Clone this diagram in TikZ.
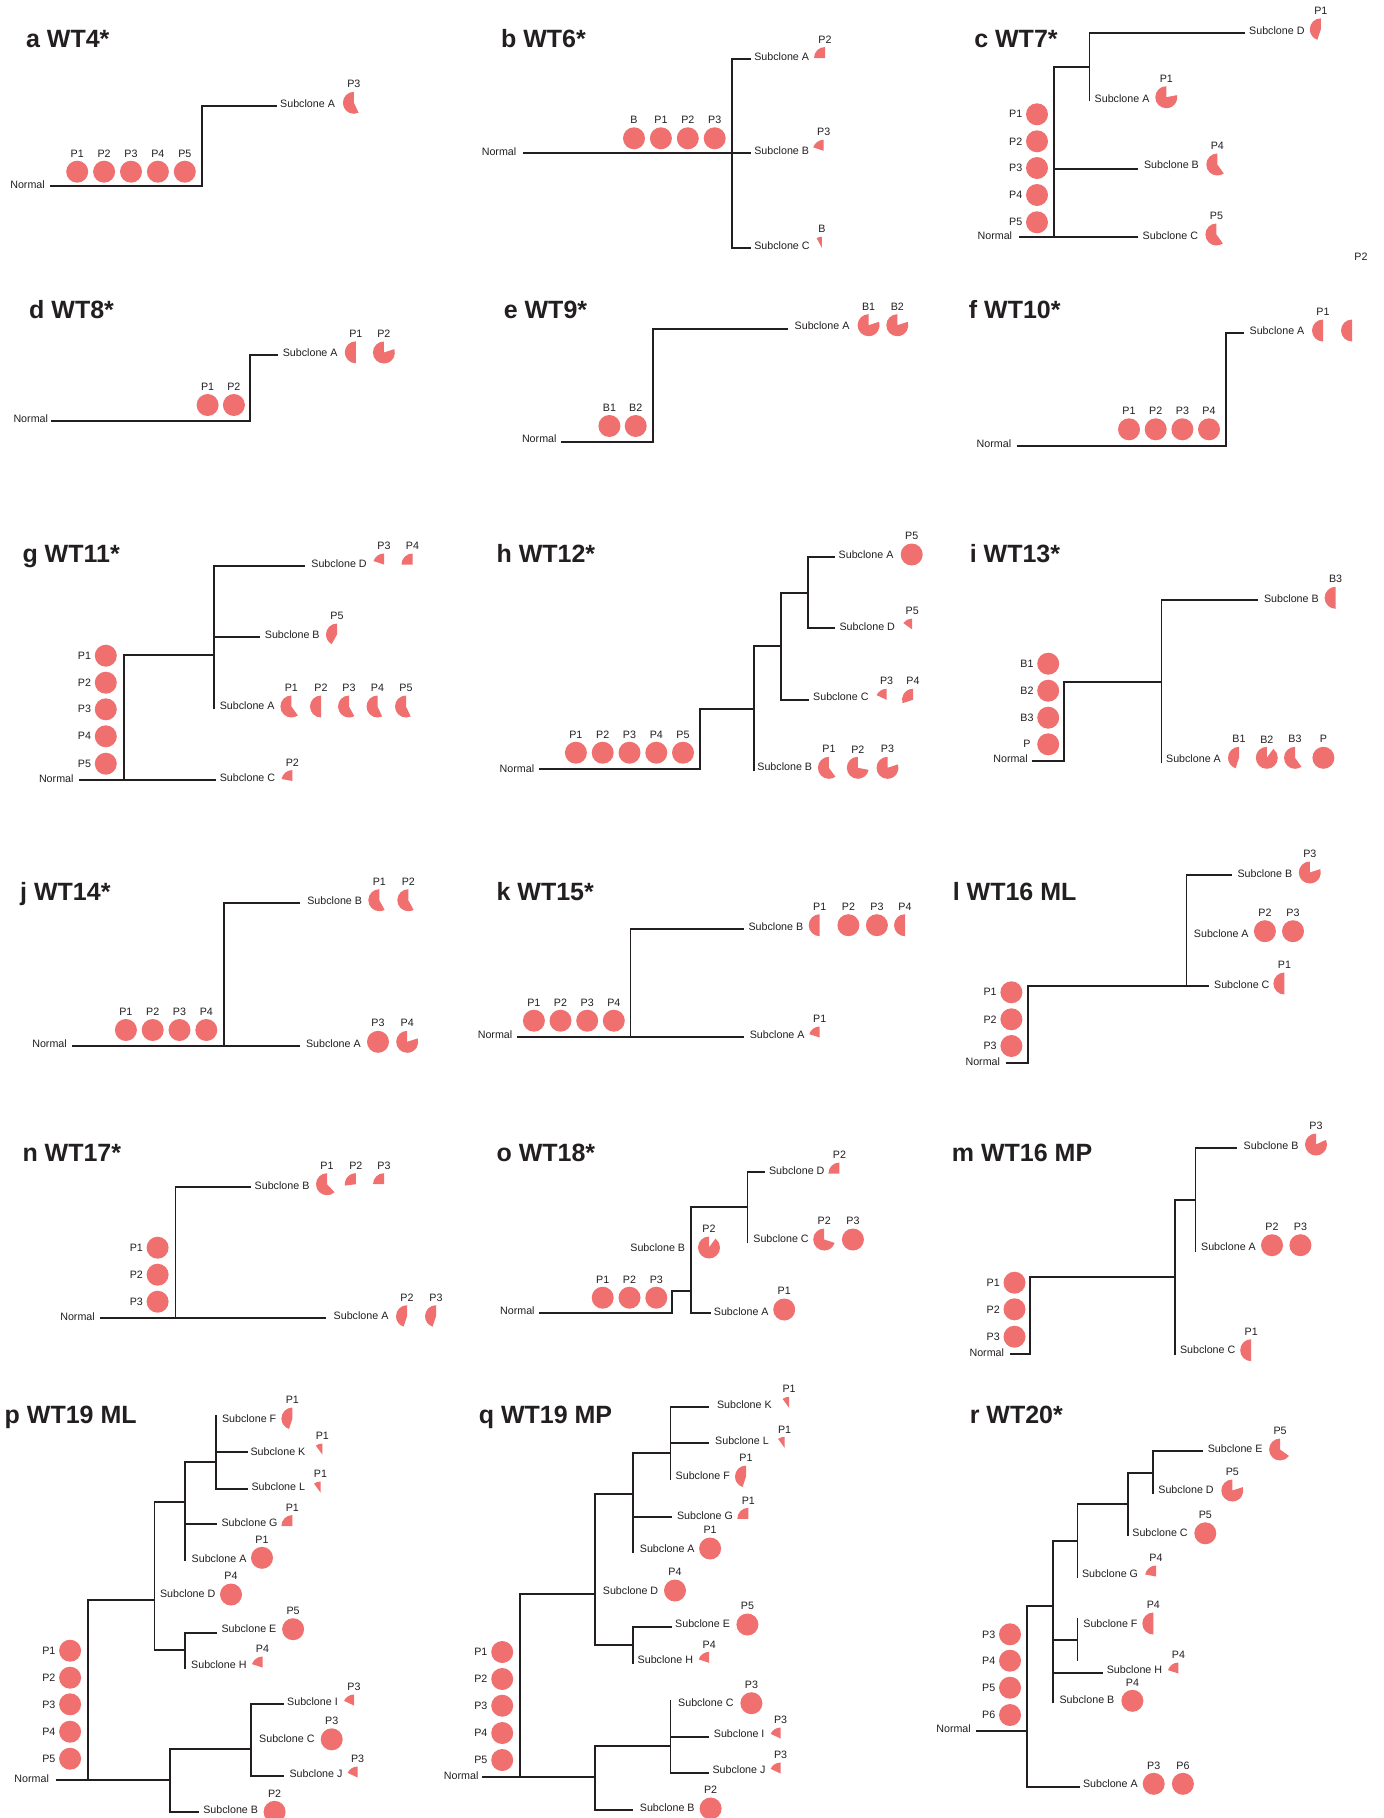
\documentclass[tikz,border=0pt]{standalone}
\usepackage{fontspec}
\setmainfont{Liberation Sans}
\definecolor{pc}{RGB}{240,112,112}
\definecolor{ink}{RGB}{35,31,32}
\tikzset{
  br/.style={line width=1.8pt, draw=ink, line join=miter},
  lab/.style={font=\fontsize{10.7}{12}\selectfont, inner sep=0pt, text=ink},
  ttl/.style={font=\fontsize{25}{30}\selectfont\bfseries, inner sep=0pt, text=ink, anchor=base west},
  pief/.style={fill=pc}
}
% pie: cx, cy, fraction, label
\newcommand{\piec}[4]{\fill[pief] (#1,-#2) -- ++(0,11) arc[start angle=90, delta angle={360*#3}, radius=11] -- cycle;
  \node[lab] at (#1,{18.5-#2}) {#4};}
\newcommand{\fullc}[3]{\fill[pief] (#1,-#2) circle[radius=11];
  \node[lab] at (#1,{18.5-#2}) {#3};}
\newcommand{\rowc}[3]{\fill[pief] (#1,-#2) circle[radius=11];
  \node[lab] at (#1,{18.2-#2}) {#3};}
\newcommand{\colc}[3]{\fill[pief] (#1,-#2) circle[radius=11];
  \node[lab] at ({#1-21.3},-#2) {#3};}
\newcommand{\subl}[3]{\node[lab,anchor=west] at (#1,-#2) {#3};}
\newcommand{\norml}[2]{\node[lab,anchor=east] at (#1,-#2) {Normal};}
\begin{document}
\begin{tikzpicture}[x=1pt,y=1pt]
\fill[white] (0,0) rectangle (1384,-1818);
\useasboundingbox (0,0) rectangle (1384,-1818);

% ---------------- a
\node[ttl] (ta) at (25.9,-47.7) {a WT4*};
\draw[br] (50,-186) -| (201.8,-106) -- (276.8,-106);
\norml{45}{184.3}
\subl{280}{103.3}{Subclone A}
\rowc{77.2}{171.7}{P1}\rowc{104.1}{171.7}{P2}\rowc{131}{171.7}{P3}\rowc{157.9}{171.7}{P4}\rowc{184.8}{171.7}{P5}
\piec{353.9}{102.8}{0.57}{P3}

% ---------------- b
\node[ttl] (tb) at (500.9,-47.7) {b WT6*};
\draw[br] (523.2,-153.3) -- (751,-153.3);
\draw[br] (751,-59) -- (731.6,-59) -- (731.6,-247.7) -- (751,-247.7);
\norml{516.5}{151.7}
\subl{754.1}{56.3}{Subclone A}
\subl{754.1}{150.3}{Subclone B}
\subl{754.1}{245.3}{Subclone C}
\rowc{634}{138.3}{B}\rowc{660.9}{138.3}{P1}\rowc{687.8}{138.3}{P2}\rowc{714.7}{138.3}{P3}
\piec{825}{58}{0.25}{P2}
\piec{823.7}{150.8}{0.2}{P3}
\piec{821.9}{247.8}{0.08}{B}

% ---------------- c
\node[ttl] (tc) at (974.1,-47.7) {c WT7*};
\draw[br] (1019,-237.3) -- (1138,-237.3);
\draw[br] (1054,-237.3) -- (1054,-67) -- (1089.5,-67);
\draw[br] (1089.5,-101) -- (1089.5,-32.7) -- (1245,-32.7);
\draw[br] (1054,-169.3) -- (1138,-169.3);
\norml{1012.3}{235.3}
\subl{1249}{30.3}{Subclone D}
\subl{1094.5}{98.3}{Subclone A}
\subl{1143.9}{165}{Subclone B}
\subl{1142.5}{235.3}{Subclone C}
\colc{1037}{114.3}{P1}\colc{1037}{141.3}{P2}\colc{1037}{168}{P3}\colc{1037}{195}{P4}\colc{1037}{222.3}{P5}
\piec{1320.8}{29.3}{0.45}{P1}
\piec{1166.3}{97.2}{0.78}{P1}
\piec{1217.3}{164.5}{0.6}{P4}
\piec{1216.4}{234.5}{0.6}{P5}
\node[lab] (stray) at (1361,-257) {P2};

% ---------------- d
\node[ttl] (td) at (29,-318.3) {d WT8*};
\draw[br] (51.3,-421) -| (250,-355.3) -- (277.7,-355.3);
\norml{48.2}{418.3}
\subl{282.6}{352.3}{Subclone A}
\rowc{207.6}{405}{P1}\rowc{233.9}{405}{P2}
\piec{355.8}{352.3}{0.5}{P1}
\piec{383.9}{352.5}{0.8}{P2}

% ---------------- e
\node[ttl] (te) at (503.6,-318.3) {e WT9*};
\draw[br] (561.2,-442) -| (652.7,-329) -- (787.8,-329);
\norml{556.7}{438.7}
\subl{794.5}{325.3}{Subclone A}
\rowc{609.4}{426}{B1}\rowc{635.7}{426}{B2}
\piec{868.6}{325.2}{0.8}{B1}
\piec{897.3}{325.2}{0.8}{B2}

% ---------------- f
\node[ttl] (tf) at (968.7,-318.3) {f WT10*};
\draw[br] (1016.8,-445.7) -| (1225.6,-333.3) -- (1244.4,-333.3);
\norml{1011.4}{443.3}
\subl{1249.4}{331}{Subclone A}
\rowc{1129}{429.3}{P1}\rowc{1155.7}{429.3}{P2}\rowc{1182.4}{429.3}{P3}\rowc{1209}{429.3}{P4}
\piec{1323}{330.5}{0.5}{P1}
\piec{1352}{330.5}{0.5}{}

% ---------------- g
\node[ttl] (tg) at (22.3,-562.7) {g WT11*};
\draw[br] (79,-780.3) -- (215.6,-780.3);
\draw[br] (124.1,-780.3) -- (124.1,-655) -- (214.3,-655);
\draw[br] (214.3,-709.3) -- (214.3,-565.7) -- (305,-565.7);
\draw[br] (214.3,-637) -- (260.3,-637);
\norml{73.7}{778.3}
\subl{311.2}{563.3}{Subclone D}
\subl{264.7}{635}{Subclone B}
\subl{219.6}{706}{Subclone A}
\subl{219.6}{778}{Subclone C}
\colc{105.8}{655.7}{P1}\colc{105.8}{682.7}{P2}\colc{105.8}{709.3}{P3}\colc{105.8}{736.3}{P4}\colc{105.8}{763.7}{P5}
\piec{384}{564.5}{0.2}{P3}
\piec{412.5}{564.5}{0.25}{P4}
\piec{337}{634.5}{0.42}{P5}
\piec{291.4}{706.5}{0.6}{P1}
\piec{321}{706.5}{0.5}{P2}
\piec{349}{706.5}{0.58}{P3}
\piec{377.5}{706.5}{0.57}{P4}
\piec{406}{706.5}{0.57}{P5}
\piec{292.4}{781}{0.22}{P2}

% ---------------- h
\node[ttl] (th) at (496.4,-562.7) {h WT12*};
\draw[br] (538.8,-769.3) -| (700.2,-708.7) -- (754.1,-708.7);
\draw[br] (754.1,-771) -- (754.1,-646) -- (781,-646);
\draw[br] (808.9,-700) -- (781,-700) -- (781,-592.7) -- (808,-592.7);
\draw[br] (835,-557.3) -- (808,-557.3) -- (808,-628.3) -- (835,-628.3);
\norml{534.4}{768.3}
\subl{838.5}{555}{Subclone A}
\subl{839.4}{626.3}{Subclone D}
\subl{813}{697}{Subclone C}
\subl{757.2}{767}{Subclone B}
\rowc{575.9}{752.7}{P1}\rowc{602.7}{752.7}{P2}\rowc{629.5}{752.7}{P3}\rowc{656.3}{752.7}{P4}\rowc{683}{752.7}{P5}
\fullc{911.7}{554.5}{P5}
\piec{912.2}{629.5}{0.15}{P5}
\piec{886.6}{699.8}{0.18}{P3}
\piec{913}{699.8}{0.3}{P4}
\piec{828.9}{767.8}{0.6}{P1}
\piec{857.8}{767.8}{0.72}{P2}
\piec{887.5}{767.8}{0.8}{P3}

% ---------------- i
\node[ttl] (ti) at (969.6,-562.3) {i WT13*};
\draw[br] (1031.6,-760.7) -| (1064,-681.7) -- (1161.4,-681.7);
\draw[br] (1161.4,-763.3) -- (1161.4,-600.3) -- (1258.4,-600.3);
\norml{1028}{759}
\subl{1263.8}{598.3}{Subclone B}
\subl{1165.9}{759}{Subclone A}
\colc{1048.2}{663.7}{B1}\colc{1048.2}{690.7}{B2}\colc{1048.2}{717.7}{B3}\colc{1048.2}{744.3}{P}
\piec{1335.6}{597.8}{0.5}{B3}
\piec{1239}{757.8}{0.45}{B1}
\piec{1266.8}{757.8}{0.9}{B2}
\piec{1295}{757.8}{0.6}{B3}
\fullc{1323.4}{757.8}{P}

% ---------------- j
\node[ttl] (tj) at (20,-900.7) {j WT14*};
\draw[br] (72.3,-1045.7) -- (300,-1045.7);
\draw[br] (224.1,-1045.7) -- (224.1,-902.7) -- (300,-902.7);
\norml{67}{1043.3}
\subl{307.1}{900.7}{Subclone B}
\subl{305.8}{1043.3}{Subclone A}
\rowc{125.9}{1030}{P1}\rowc{152.7}{1030}{P2}\rowc{179.5}{1030}{P3}\rowc{206.3}{1030}{P4}
\piec{379.3}{900.2}{0.58}{P1}
\piec{408.3}{900.2}{0.58}{P2}
\fullc{378}{1041.8}{P3}
\piec{407.2}{1041.8}{0.8}{P4}

% ---------------- k
\node[ttl] (tk) at (496.4,-900.7) {k WT15*};
\draw[br] (517,-1036.7) -- (743.8,-1036.7);
\draw[br] (630.4,-1036.7) -- (630.4,-928.7) -- (743.8,-928.7);
\norml{512.5}{1035}
\subl{748.3}{926.3}{Subclone B}
\subl{749.6}{1034.3}{Subclone A}
\rowc{533.9}{1020.7}{P1}\rowc{560.5}{1020.7}{P2}\rowc{587.2}{1020.7}{P3}\rowc{613.8}{1020.7}{P4}
\piec{819.7}{925.2}{0.5}{P1}
\fullc{848.4}{925.2}{P2}
\fullc{876.9}{925.2}{P3}
\piec{905}{925.2}{0.5}{P4}
\piec{819.7}{1037.5}{0.2}{P1}

% ---------------- l
\node[ttl] (tl) at (952.6,-900.7) {l WT16 ML};
\draw[br] (1005.5,-1062.7) -| (1028,-985.7) -- (1209,-985.7);
\draw[br] (1186.5,-985.7) -- (1186.5,-875) -- (1232.3,-875);
\norml{1000.2}{1061.3}
\subl{1237.3}{873.3}{Subclone B}
\subl{1193.7}{933.3}{Subclone A}
\subl{1213.9}{984.7}{Subclone C}
\colc{1011.4}{992.3}{P1}\colc{1011.4}{1019.3}{P2}\colc{1011.4}{1046}{P3}
\piec{1309.8}{872.5}{0.8}{P3}
\fullc{1264.9}{931.2}{P2}
\fullc{1293}{931.2}{P3}
\piec{1284.4}{983.5}{0.5}{P1}

% ---------------- n
\node[ttl] (tn) at (22.3,-1161) {n WT17*};
\draw[br] (100,-1318.3) -- (325.9,-1318.3);
\draw[br] (175.4,-1318.3) -- (175.4,-1187.3) -- (251.3,-1187.3);
\norml{95}{1316.7}
\subl{254.5}{1185.3}{Subclone B}
\subl{333.5}{1315.7}{Subclone A}
\colc{157.6}{1247.7}{P1}\colc{157.6}{1274.7}{P2}\colc{157.6}{1301.7}{P3}
\piec{327}{1184.2}{0.62}{P1}
\piec{355.8}{1184.2}{0.27}{P2}
\piec{384}{1184.2}{0.25}{P3}
\piec{407}{1316.2}{0.45}{P2}
\piec{436}{1316.2}{0.45}{P3}

% ---------------- o
\node[ttl] (to) at (496.4,-1161) {o WT18*};
\draw[br] (539.3,-1312.7) -| (671.9,-1291) -- (691,-1291);
\draw[br] (711.4,-1312.7) -- (691,-1312.7) -- (691,-1207.3) -- (747.4,-1207.3);
\draw[br] (747.4,-1243.3) -- (747.4,-1171.7) -- (765.3,-1171.7);
\norml{534.8}{1310.7}
\subl{768.9}{1170.7}{Subclone D}
\subl{753.2}{1239}{Subclone C}
\subl{713.7}{1311.3}{Subclone A}
\node[lab,anchor=east] at (685.3,-1247.3) {Subclone B};
\rowc{602.7}{1297.7}{P1}\rowc{629.5}{1297.7}{P2}\rowc{656.3}{1297.7}{P3}
\piec{709}{1247.5}{0.9}{P2}
\piec{839.4}{1173.5}{0.25}{P2}
\piec{824.2}{1239.5}{0.7}{P2}
\fullc{852.9}{1239.5}{P3}
\fullc{784.2}{1309.5}{P1}

% ---------------- m
\node[ttl] (tm) at (951.7,-1161) {m WT16 MP};
\draw[br] (1010,-1354.3) -| (1030.3,-1276.7) -- (1174.8,-1276.7);
\draw[br] (1174.8,-1355) -- (1174.8,-1200) -- (1195.5,-1200);
\draw[br] (1195.5,-1251.7) -- (1195.5,-1148.3) -- (1236.8,-1148.3);
\norml{1004.2}{1352.3}
\subl{1243.5}{1146}{Subclone B}
\subl{1200.9}{1247}{Subclone A}
\subl{1179.8}{1350}{Subclone C}
\colc{1014.5}{1282.7}{P1}\colc{1014.5}{1309.3}{P2}\colc{1014.5}{1336.7}{P3}
\piec{1316}{1144.5}{0.82}{P3}
\fullc{1272}{1245.2}{P2}
\fullc{1300.4}{1245.2}{P3}
\piec{1251.2}{1350.2}{0.5}{P1}

% ---------------- p
\node[ttl] (tp) at (4.5,-1423.3) {p WT19 ML};
\draw[br] (55.8,-1780.3) -- (169.6,-1780.3);
\draw[br] (87.9,-1780.3) -- (87.9,-1599.7) -- (154.5,-1599.7);
\draw[br] (185.3,-1650) -- (154.5,-1650) -- (154.5,-1502) -- (185.3,-1502);
\draw[br] (185.3,-1561) -- (185.3,-1461.7) -- (216,-1461.7);
\draw[br] (216,-1415) -- (216,-1488.7) -- (247.8,-1488.7);
\draw[br] (216,-1452.3) -- (247.8,-1452.3);
\draw[br] (185.3,-1524.3) -- (217,-1524.3);
\draw[br] (185.3,-1669) -- (185.3,-1632.7) -- (217,-1632.7);
\draw[br] (198.7,-1812.3) -- (169.6,-1812.3) -- (169.6,-1749) -- (251.3,-1749);
\draw[br] (283.5,-1704.3) -- (251.3,-1704.3) -- (251.3,-1776) -- (283.5,-1776);
\norml{49.1}{1778.3}
\subl{221.9}{1418.3}{Subclone F}
\subl{250.4}{1451.3}{Subclone K}
\subl{251.3}{1486.3}{Subclone L}
\subl{221.4}{1522.3}{Subclone G}
\subl{191.5}{1558.3}{Subclone A}
\subl{159.8}{1594}{Subclone D}
\subl{221.4}{1629}{Subclone E}
\subl{191}{1665}{Subclone H}
\subl{287}{1702}{Subclone I}
\subl{259}{1739}{Subclone C}
\subl{289.3}{1774}{Subclone J}
\subl{203.1}{1810}{Subclone B}
\colc{70.1}{1650.7}{P1}\colc{70.1}{1677.7}{P2}\colc{70.1}{1704.3}{P3}\colc{70.1}{1731.7}{P4}\colc{70.1}{1758.7}{P5}
\piec{292.4}{1418.5}{0.45}{P1}
\piec{322.3}{1454.5}{0.1}{P1}
\piec{320.5}{1492.5}{0.1}{P1}
\piec{292.4}{1526}{0.25}{P1}
\fullc{262}{1557.8}{P1}
\fullc{231}{1594.5}{P4}
\fullc{293.1}{1629.2}{P5}
\piec{262.5}{1667.5}{0.2}{P4}
\piec{354}{1705.5}{0.18}{P3}
\fullc{331.7}{1739.3}{P3}
\piec{357.6}{1777.5}{0.18}{P3}
\fullc{274.6}{1811.8}{P2}

% ---------------- q
\node[ttl] (tq) at (478.6,-1423.3) {q WT19 MP};
\draw[br] (482.1,-1777.3) -- (595.1,-1777.3);
\draw[br] (520.1,-1777.3) -- (520.1,-1594) -- (595.1,-1594);
\draw[br] (633,-1645) -- (595.1,-1645) -- (595.1,-1494.3) -- (633,-1494.3);
\draw[br] (633,-1553.3) -- (633,-1452.7) -- (670.5,-1452.7);
\draw[br] (670.5,-1480) -- (670.5,-1407) -- (709.2,-1407);
\draw[br] (670.5,-1443.3) -- (709.2,-1443.3);
\draw[br] (633,-1516.7) -- (671.9,-1516.7);
\draw[br] (633,-1664) -- (633,-1626.7) -- (672,-1626.7);
\draw[br] (633,-1810) -- (595.1,-1810) -- (595.1,-1745.7) -- (670.5,-1745.7);
\draw[br] (670.5,-1700) -- (670.5,-1773.3) -- (709.2,-1773.3);
\draw[br] (670.5,-1736.7) -- (709.2,-1736.7);
\norml{478.6}{1775.3}
\subl{716.8}{1404.7}{Subclone K}
\subl{715}{1441}{Subclone L}
\subl{675.5}{1476}{Subclone F}
\subl{676.8}{1515.3}{Subclone G}
\subl{639.7}{1548.3}{Subclone A}
\subl{602.7}{1591}{Subclone D}
\subl{675}{1624}{Subclone E}
\subl{637.5}{1660}{Subclone H}
\subl{678}{1702.7}{Subclone C}
\subl{713.7}{1734}{Subclone I}
\subl{712.3}{1770}{Subclone J}
\subl{639.7}{1807.3}{Subclone B}
\colc{502.2}{1652}{P1}\colc{502.2}{1679}{P2}\colc{502.2}{1705.7}{P3}\colc{502.2}{1733}{P4}\colc{502.2}{1760}{P5}
\piec{789.1}{1407.8}{0.1}{P1}
\piec{784.6}{1447.8}{0.1}{P1}
\piec{746}{1476.5}{0.45}{P1}
\piec{748.3}{1518.8}{0.25}{P1}
\fullc{710.1}{1548.5}{P1}
\fullc{675}{1590.5}{P4}
\fullc{747.4}{1624.5}{P5}
\piec{709.2}{1662.8}{0.2}{P4}
\fullc{751.4}{1703.2}{P3}
\piec{780.6}{1738.5}{0.18}{P3}
\piec{780.6}{1773.5}{0.18}{P3}
\fullc{710.6}{1808.5}{P2}

% ---------------- r
\node[ttl] (tr) at (969.6,-1423.3) {r WT20*};
\draw[br] (976.4,-1731) -- (1027.1,-1731);
\draw[br] (1052.7,-1606) -- (1027.1,-1606) -- (1027.1,-1786.7) -- (1079.6,-1786.7);
\draw[br] (1052.7,-1703.3) -- (1052.7,-1540.7) -- (1077.4,-1540.7);
\draw[br] (1077.4,-1578.3) -- (1077.4,-1504) -- (1127.7,-1504);
\draw[br] (1127.7,-1536) -- (1127.7,-1472.7) -- (1152.8,-1472.7);
\draw[br] (1152.8,-1494.3) -- (1152.8,-1451) -- (1203.1,-1451);
\draw[br] (1052.7,-1640) -- (1077.4,-1640);
\draw[br] (1077.4,-1618.3) -- (1077.4,-1660.7);
\draw[br] (1052.7,-1672.7) -- (1103,-1672.7);
\norml{971}{1729}
\subl{1082.8}{1784}{Subclone A}
\subl{1207.6}{1449}{Subclone E}
\subl{1158.2}{1490}{Subclone D}
\subl{1132.2}{1532.3}{Subclone C}
\subl{1081.9}{1573.7}{Subclone G}
\subl{1083.2}{1623.3}{Subclone F}
\subl{1106.6}{1670}{Subclone H}
\subl{1059.4}{1700}{Subclone B}
\colc{1010}{1634.3}{P3}\colc{1010}{1660.7}{P4}\colc{1010}{1687.7}{P5}\colc{1010}{1715}{P6}
\piec{1280.1}{1449.5}{0.65}{P5}
\piec{1232.3}{1490.5}{0.8}{P5}
\fullc{1205.3}{1533.3}{P5}
\piec{1156}{1576.5}{0.22}{P4}
\piec{1153.3}{1623.5}{0.5}{P4}
\piec{1178.4}{1673.5}{0.2}{P4}
\fullc{1132.4}{1700.8}{P4}
\fullc{1153.7}{1783.8}{P3}
\fullc{1182.9}{1783.8}{P6}
\end{tikzpicture}
\end{document}
